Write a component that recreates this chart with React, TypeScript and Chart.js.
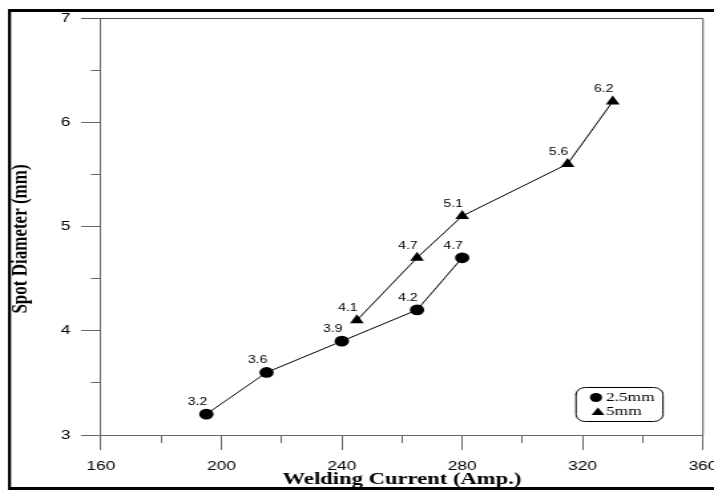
import React, { useEffect, useRef } from 'react';
import { Chart, registerables } from 'chart.js';

Chart.register(...registerables);

// ---- data ----
const seriesNames = ['2.5mm', '5mm'];
const current25 = [195, 215, 240, 265, 280];
const diameter25 = [3.2, 3.6, 3.9, 4.2, 4.7];
const current5 = [245, 265, 280, 315, 330];
const diameter5 = [4.1, 4.7, 5.1, 5.6, 6.2];
const xTitle = 'Welding Current (Amp.)';
const yTitle = 'Spot Diameter (mm)';
const xRange = [160, 360];
const xStep = 20;
const xLabelStep = 40;
const yRange = [3, 7];
const yStep = 0.5;

// ---- layout ----
const W = 714;
const H = 490;
const CW = 537; // canvas bitmap width, stretched horizontally to W
const SX = W / CW;
const PLOT_LEFT = 101 / SX;
const PLOT_RIGHT = 703 / SX;
const PLOT_TOP = 18;
const PLOT_BOTTOM = 435;

const SANS = '"Liberation Sans", Arial, Helvetica, sans-serif';
const SERIF = '"Liberation Serif", "Times New Roman", Times, serif';

const framePlugin = {
  id: 'frames',
  beforeDraw(chart: any) {
    const ctx = chart.ctx;
    ctx.save();
    ctx.fillStyle = '#fff';
    ctx.fillRect(0, 0, chart.width, chart.height);
    ctx.restore();
  },
  afterDraw(chart: any) {
    const ctx = chart.ctx;
    const a = chart.chartArea;
    ctx.save();
    // plot box (top & right)
    ctx.strokeStyle = '#555';
    ctx.lineWidth = 1;
    ctx.beginPath();
    ctx.moveTo(a.left - 15, a.top + 0.5);
    ctx.lineTo(a.right, a.top + 0.5);
    ctx.lineTo(a.right, a.bottom);
    ctx.stroke();
    // outer frame
    ctx.fillStyle = '#000';
    ctx.fillRect(8 / SX, 9, 3 / SX, 481);
    ctx.fillRect(8 / SX, 9, CW, 3);
    ctx.fillRect(8 / SX, 487, CW, 3);
    // y axis title
    ctx.translate(21 / SX, 239);
    ctx.rotate(-Math.PI / 2);
    ctx.font = `bold 17px ${SERIF}`;
    ctx.textAlign = 'center';
    ctx.textBaseline = 'middle';
    ctx.fillText(yTitle, 0, 0);
    ctx.restore();
  },
};

const dataLabelPlugin = {
  id: 'dataLabels',
  afterDatasetsDraw(chart: any) {
    const ctx = chart.ctx;
    ctx.save();
    ctx.font = `10.5px ${SANS}`;
    ctx.fillStyle = '#000';
    ctx.textAlign = 'center';
    ctx.textBaseline = 'middle';
    chart.data.datasets.forEach((ds: any, di: number) => {
      const meta = chart.getDatasetMeta(di);
      meta.data.forEach((el: any, i: number) => {
        const v = ds.data[i].y;
        ctx.fillText(v.toFixed(1), el.x - 9 / SX, el.y - 12);
      });
    });
    ctx.restore();
  },
};

const legendPlugin = {
  id: 'boxLegend',
  afterDraw(chart: any) {
    const ctx = chart.ctx;
    const x1 = 576 / SX, x2 = 663 / SX, y1 = 387, y2 = 421;
    const r = 7;
    ctx.save();
    ctx.strokeStyle = '#000';
    ctx.lineWidth = 1;
    ctx.beginPath();
    ctx.moveTo(x1 + r, y1 + 0.5);
    ctx.lineTo(x2 - r, y1 + 0.5);
    ctx.arcTo(x2, y1 + 0.5, x2, y1 + r, r);
    ctx.lineTo(x2, y2 - r);
    ctx.arcTo(x2, y2 + 0.5, x2 - r, y2 + 0.5, r);
    ctx.lineTo(x1 + r, y2 + 0.5);
    ctx.arcTo(x1, y2 + 0.5, x1, y2 - r, r);
    ctx.lineTo(x1, y1 + r);
    ctx.arcTo(x1, y1 + 0.5, x1 + r, y1 + 0.5, r);
    ctx.closePath();
    ctx.stroke();
    // markers
    ctx.fillStyle = '#000';
    ctx.beginPath();
    ctx.arc(596 / SX, 397.5, 4.6, 0, Math.PI * 2);
    ctx.fill();
    const tx = 598 / SX;
    ctx.beginPath();
    ctx.moveTo(tx, 407.5);
    ctx.lineTo(tx + 4.9, 415);
    ctx.lineTo(tx - 4.9, 415);
    ctx.closePath();
    ctx.fill();
    // texts
    ctx.font = `13px ${SERIF}`;
    ctx.textAlign = 'left';
    ctx.textBaseline = 'middle';
    ctx.fillText(seriesNames[0], 606 / SX, 398);
    ctx.fillText(seriesNames[1], 606 / SX, 412);
    ctx.restore();
  },
};

export default function App() {
  const ref = useRef<HTMLCanvasElement>(null);

  useEffect(() => {
    const canvas = ref.current;
    if (!canvas) return;
    const chart = new Chart(canvas, {
      type: 'scatter',
      data: {
        datasets: [
          {
            label: seriesNames[0],
            data: current25.map((x, i) => ({ x, y: diameter25[i] })),
            showLine: true,
            borderColor: '#000',
            borderWidth: 1,
            pointStyle: 'circle',
            pointRadius: 5.4,
            pointBackgroundColor: '#000',
            pointBorderColor: '#000',
            pointBorderWidth: 0,
            tension: 0,
          },
          {
            label: seriesNames[1],
            data: current5.map((x, i) => ({ x, y: diameter5[i] })),
            showLine: true,
            borderColor: '#000',
            borderWidth: 1,
            pointStyle: 'triangle',
            pointRadius: 6,
            pointBackgroundColor: '#000',
            pointBorderColor: '#000',
            pointBorderWidth: 0,
            tension: 0,
          },
        ],
      },
      options: {
        responsive: false,
        maintainAspectRatio: false,
        animation: false,
        devicePixelRatio: 1,
        events: [],
        layout: { padding: { left: 0, top: PLOT_TOP, right: CW - PLOT_RIGHT, bottom: 0 } },
        plugins: {
          legend: { display: false },
          tooltip: { enabled: false },
          title: { display: false },
        },
        scales: {
          x: {
            type: 'linear',
            position: 'bottom',
            min: xRange[0],
            max: xRange[1],
            ticks: {
              stepSize: xStep,
              autoSkip: false,
              maxRotation: 0,
              padding: 9,
              color: '#000',
              font: { family: SANS, size: 13 },
              callback: (v: any) => (Number(v) % xLabelStep === 0 ? String(v) : ''),
            },
            grid: {
              drawOnChartArea: false,
              drawTicks: true,
              tickLength: 15,
              tickColor: '#666',
              tickWidth: 1,
              tickBorderDash: (c: any) =>
                c.tick && c.tick.value % xLabelStep === 0 ? [] : [7, 100],
            },
            border: { display: true, color: '#666', width: 1 },
            title: {
              display: true,
              text: xTitle,
              color: '#000',
              font: { family: SERIF, size: 17, weight: 'bold' },
              padding: { top: 0, bottom: 0 },
            },
            afterFit: (s: any) => {
              s.height = H - PLOT_BOTTOM;
              s.paddingLeft = 0;
              s.paddingRight = 0;
            },
          },
          y: {
            type: 'linear',
            position: 'left',
            min: yRange[0],
            max: yRange[1],
            ticks: {
              stepSize: yStep,
              autoSkip: false,
              padding: 8,
              color: '#000',
              font: { family: SANS, size: 13 },
              callback: (v: any) => (Number.isInteger(Number(v)) ? String(v) : ''),
            },
            grid: {
              drawOnChartArea: false,
              drawTicks: true,
              tickLength: 15,
              tickColor: '#666',
              tickWidth: 1,
              tickBorderDash: (c: any) =>
                c.tick && Number.isInteger(c.tick.value) ? [] : [7.5, 7.5],
              tickBorderDashOffset: (c: any) =>
                c.tick && Number.isInteger(c.tick.value) ? 0 : 7.5,
            },
            border: { display: true, color: '#666', width: 1 },
            title: { display: false },
            afterFit: (s: any) => {
              s.width = PLOT_LEFT;
              s.paddingTop = 0;
              s.paddingBottom = 0;
            },
          },
        },
      } as any,
      plugins: [framePlugin, dataLabelPlugin, legendPlugin],
    });
    return () => chart.destroy();
  }, []);

  return (
    <div
      style={{
        position: 'fixed',
        left: 0,
        top: 0,
        width: W,
        height: H,
        overflow: 'hidden',
        background: '#fff',
      }}
    >
      <canvas
        ref={ref}
        width={CW}
        height={H}
        style={{ width: W, height: H, display: 'block' }}
      />
    </div>
  );
}
